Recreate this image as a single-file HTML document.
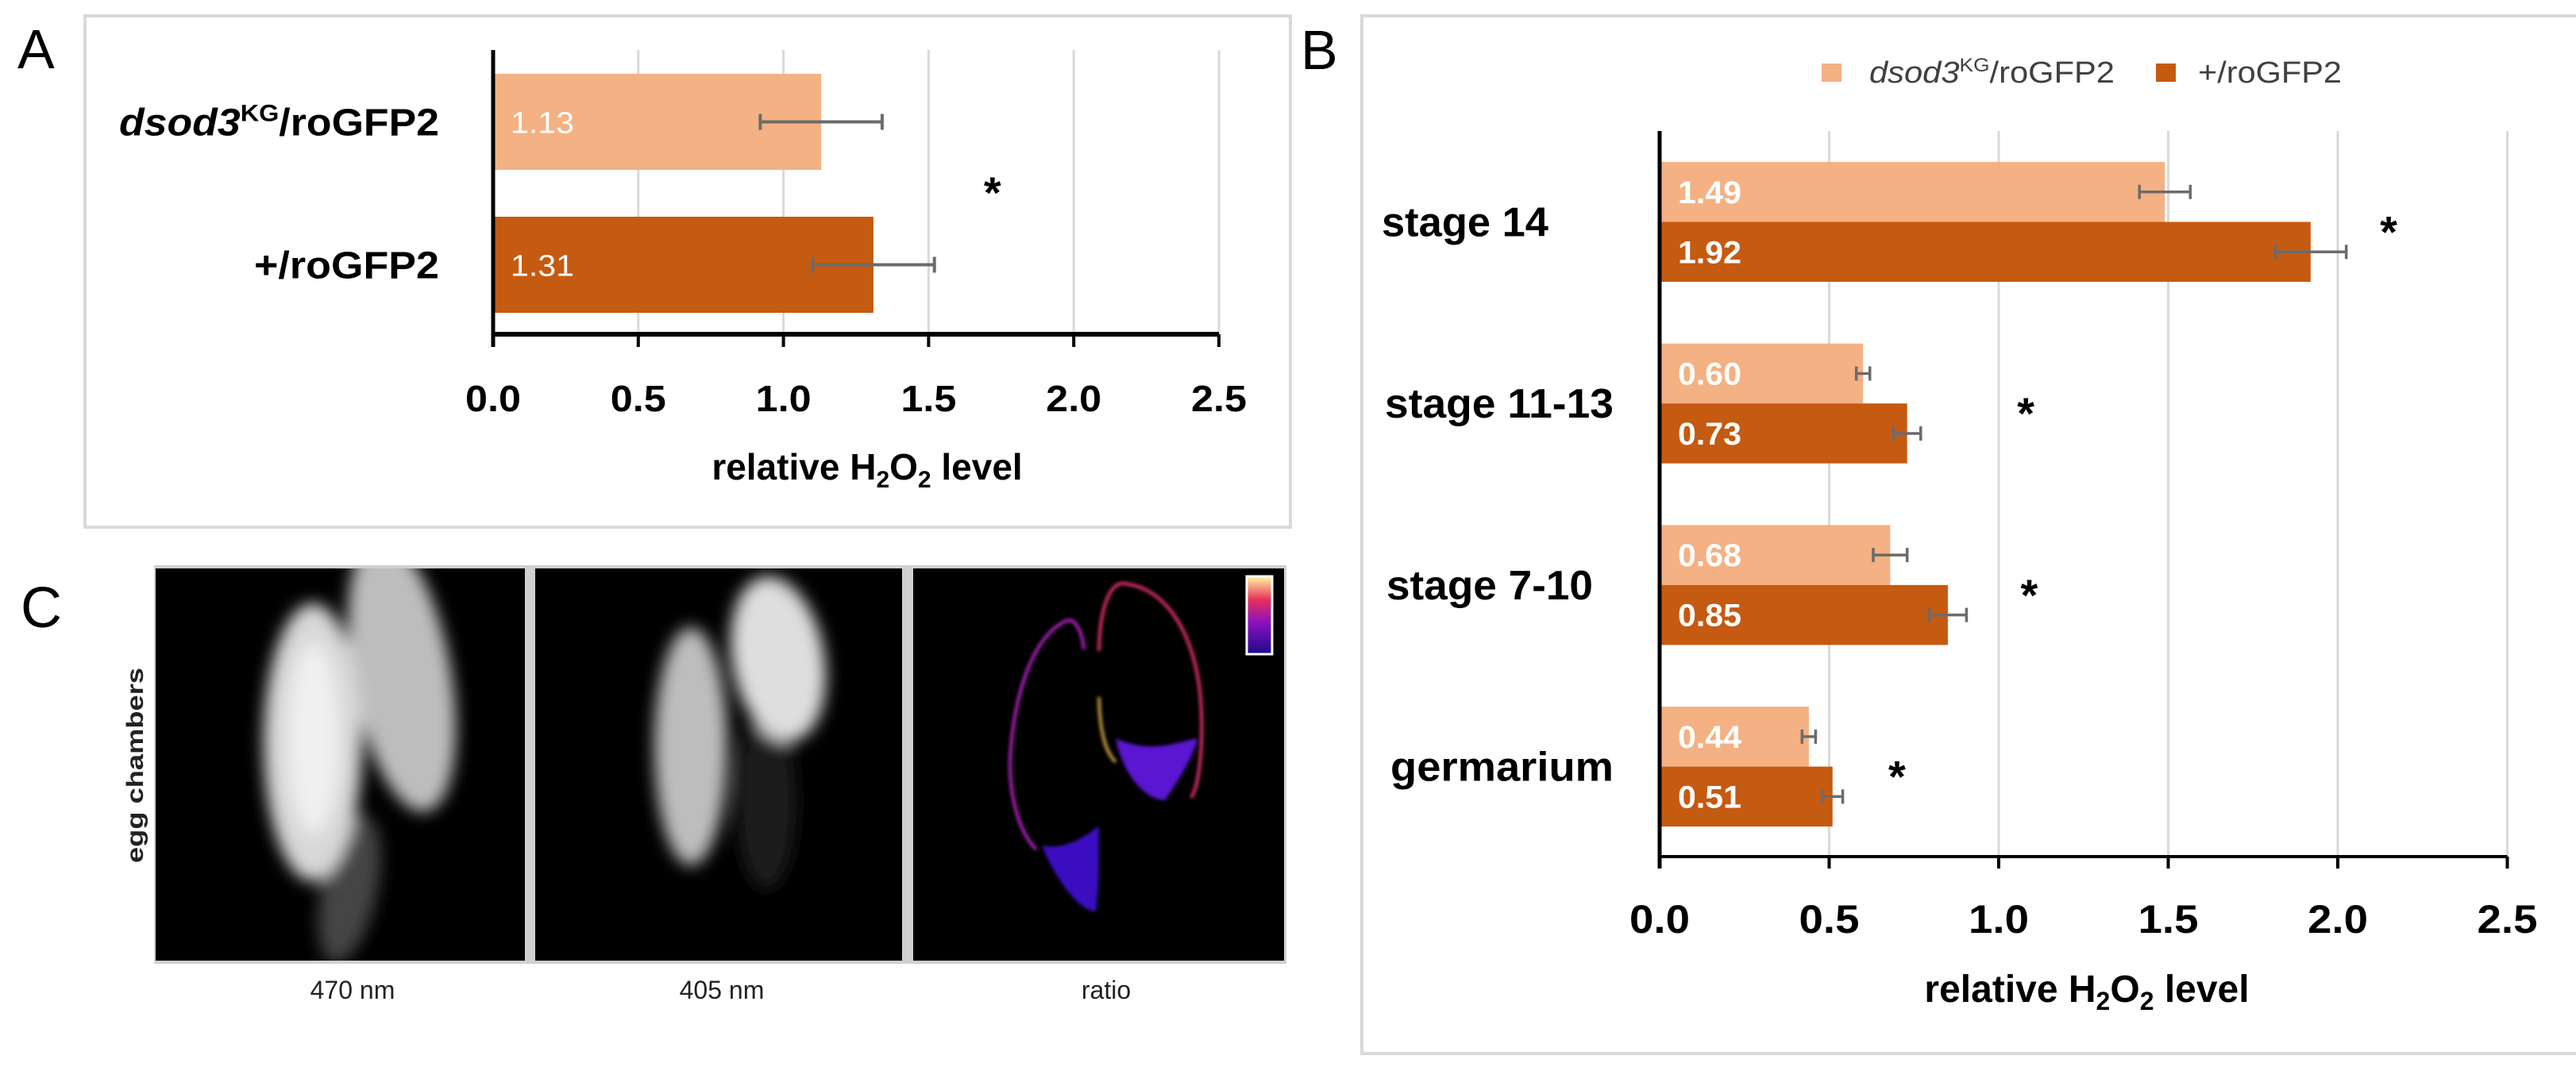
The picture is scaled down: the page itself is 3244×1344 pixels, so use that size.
<!DOCTYPE html>
<html><head><meta charset="utf-8"><style>
html,body{margin:0;padding:0;background:#fff;}
svg{display:block;}
text{font-family:"Liberation Sans",sans-serif;}
</style></head><body>
<svg id="fig" width="3244" height="1344" viewBox="0 0 3244 1344" xmlns="http://www.w3.org/2000/svg">
<defs>
<filter id="blur1" x="-50%" y="-50%" width="200%" height="200%"><feGaussianBlur stdDeviation="10"/></filter>
<filter id="blur2" x="-50%" y="-50%" width="200%" height="200%"><feGaussianBlur stdDeviation="2"/></filter>
<clipPath id="c1"><rect x="196" y="716" width="465" height="494"/></clipPath>
<clipPath id="c2"><rect x="674" y="716" width="462" height="494"/></clipPath>
<clipPath id="c3"><rect x="1150" y="716" width="467" height="494"/></clipPath>
<linearGradient id="cbar" x1="0" y1="1" x2="0" y2="0"><stop offset="0" stop-color="#1a0a8a"/><stop offset="0.4" stop-color="#8a10c0"/><stop offset="0.7" stop-color="#e8305a"/><stop offset="1" stop-color="#fff8a0"/></linearGradient>
</defs>
<rect x="107" y="20" width="1518" height="644" fill="#fff" stroke="#d9d9d9" stroke-width="4"/>
<text x="22" y="86" font-size="70" fill="#000">A</text>
<g id="chartA"></g>
<rect x="1715" y="20" width="1540" height="1307" fill="#fff" stroke="#d9d9d9" stroke-width="4"/>
<text x="1638" y="87" font-size="70" fill="#000">B</text>
<g id="legendB">
<rect x="2294" y="80" width="25" height="23" fill="#F4B183"/>
<text x="2354" y="104" font-size="38" fill="#404040" textLength="309" lengthAdjust="spacingAndGlyphs"><tspan font-style="italic">dsod3</tspan><tspan font-size="24" dy="-14">KG</tspan><tspan dy="14">/roGFP2</tspan></text>
<rect x="2715" y="80" width="25" height="23" fill="#C55A11"/>
<text x="2768" y="104" font-size="38" fill="#404040" textLength="181" lengthAdjust="spacingAndGlyphs">+/roGFP2</text>
</g>
<g id="chartB"></g>
<text x="26" y="790" font-size="72" fill="#000">C</text>
<text transform="translate(180,964) rotate(-90)" text-anchor="middle" font-size="30" font-weight="bold" fill="#222" textLength="246" lengthAdjust="spacingAndGlyphs">egg chambers</text>
<rect x="194" y="712" width="1426" height="502" fill="#d0d0d0"/>
<g clip-path="url(#c1)">
<rect x="196" y="716" width="465" height="494" fill="#000"/>
<g filter="url(#blur1)">
<ellipse cx="440" cy="1120" rx="35" ry="95" fill="#444" transform="rotate(12 440 1120)"/>
<ellipse cx="506" cy="850" rx="62" ry="175" fill="#bdbdbd" transform="rotate(-10 506 850)"/>
<ellipse cx="394" cy="935" rx="62" ry="175" fill="#d8d8d8"/>
<ellipse cx="395" cy="930" rx="32" ry="120" fill="#f0f0f0"/>
</g>
</g>
<g clip-path="url(#c2)">
<rect x="674" y="716" width="462" height="494" fill="#000"/>
<g filter="url(#blur1)">
<ellipse cx="965" cy="1010" rx="38" ry="110" fill="#1c1c1c"/>
<ellipse cx="870" cy="940" rx="46" ry="150" fill="#bdbdbd"/>
<ellipse cx="980" cy="830" rx="58" ry="105" fill="#dedede" transform="rotate(-10 980 830)"/>
</g>
</g>
<g clip-path="url(#c3)">
<rect x="1150" y="716" width="467" height="494" fill="#000"/>
<g fill="none" stroke-width="4" filter="url(#blur2)">
<path d="M1365,818 C1362,790 1352,778 1343,782 C1300,800 1275,880 1272,960 C1272,1010 1285,1050 1305,1070" stroke="#b020c0"/>
<path d="M1384,820 C1385,760 1400,733 1415,735 C1470,740 1505,800 1512,880 C1516,940 1510,990 1500,1005" stroke="#e0306a"/>
<path d="M1384,878 C1385,930 1395,950 1405,960" stroke="#c8a040"/>
</g>
<path d="M1405,930 C1415,980 1445,1008 1467,1008 C1480,990 1505,950 1508,930 C1480,935 1450,950 1405,930 Z" fill="#5a18d0" filter="url(#blur2)"/>
<path d="M1312,1065 C1330,1110 1360,1148 1380,1148 C1385,1110 1383,1080 1384,1040 C1360,1060 1335,1070 1312,1065 Z" fill="#3a10c0" filter="url(#blur2)"/>
<rect x="1570" y="726" width="32" height="98" fill="url(#cbar)" stroke="#fff" stroke-width="3"/>
</g>
<text x="444" y="1258" text-anchor="middle" font-size="32" fill="#222">470 nm</text>
<text x="909" y="1258" text-anchor="middle" font-size="32" fill="#222">405 nm</text>
<text x="1393" y="1258" text-anchor="middle" font-size="32" fill="#222">ratio</text>
</svg>
<script>
var catsA = ["dsod3KG/roGFP2", "+/roGFP2"];
var valsA = [1.13, 1.31];
var errA = [0.21, 0.21];
var ticksA = ["0.0","0.5","1.0","1.5","2.0","2.5"];
var tickValsA = [0, 0.5, 1.0, 1.5, 2.0, 2.5];
var catsB = ["stage 14", "stage 11-13", "stage 7-10", "germarium"];
var valsB_mut = [1.49, 0.60, 0.68, 0.44];
var valsB_wt = [1.92, 0.73, 0.85, 0.51];
var errB_mut = [0.075, 0.02, 0.05, 0.02];
var errB_wt = [0.105, 0.04, 0.055, 0.03];
var starsB = [2.15, 1.08, 1.09, 0.70];
var starA = 1.72;
var ticksB = ["0.0","0.5","1.0","1.5","2.0","2.5"];
var tickValsB = [0, 0.5, 1.0, 1.5, 2.0, 2.5];

var NS = "http://www.w3.org/2000/svg";
function mk(tag, attrs, parent) {
  var e = document.createElementNS(NS, tag);
  for (var k in attrs) e.setAttribute(k, attrs[k]);
  parent.appendChild(e);
  return e;
}
var LIGHT = "#F4B183", DARK = "#C55A11";

(function(){
  var g = document.getElementById("chartA");
  var x0 = 621, unit = 365.6, top = 63, axisY = 421;
  function xA(v){ return x0 + v*unit; }
  tickValsA.forEach(function(v,i){
    if (i>0) {
      var gl = mk("line",{x1:xA(v),x2:xA(v),y1:top,y2:axisY,stroke:"#d9d9d9","stroke-width":3},g);
      
      
    }
    var tk = mk("line",{x1:xA(v),x2:xA(v),y1:axisY,y2:axisY+16,stroke:"#000","stroke-width":4},g);
    
    
    var t = mk("text",{x:xA(v),y:518,"text-anchor":"middle","font-size":"46","font-weight":"bold",fill:"#000",textLength:"70",lengthAdjust:"spacingAndGlyphs"},g);
    t.textContent = ticksA[i];
    
    
  });
  var bandTop = [93, 273], bandH = 121;
  var labelW = [403, 233];
  valsA.forEach(function(v,i){
    var y = bandTop[i];
    var b = mk("rect",{x:x0,y:y,width:xA(v)-x0,height:bandH,fill:i===0?LIGHT:DARK},g);
    
    
    var cy = y + bandH/2;
    var e1 = xA(v-errA[i]), e2 = xA(v+errA[i]);
    var el = mk("path",{d:"M"+e1+","+cy+"H"+e2+"M"+e1+","+(cy-10)+"V"+(cy+10)+"M"+e2+","+(cy-10)+"V"+(cy+10),stroke:"#6b6b6b","stroke-width":4,fill:"none"},g);
    
    
    var vl = mk("text",{x:x0+22,y:cy+14,"font-size":"38",fill:"#fff",textLength:"80",lengthAdjust:"spacingAndGlyphs"},g);
    vl.textContent = v.toFixed(2);
    
    
    var cl = mk("text",{x:553,y:cy+17,"text-anchor":"end","font-size":"48","font-weight":"bold",fill:"#000",textLength:labelW[i],lengthAdjust:"spacingAndGlyphs"},g);
    if (i===0) {
      cl.innerHTML = '<tspan font-style="italic">dsod3</tspan><tspan font-size="30" dy="-18">KG</tspan><tspan dy="18">/roGFP2</tspan>';
    } else { cl.textContent = catsA[i]; }
    
    
  });
  var ax = mk("line",{x1:x0,x2:x0,y1:top,y2:axisY+16,stroke:"#000","stroke-width":5},g);
  
  
  var xa = mk("line",{x1:x0,x2:xA(2.5),y1:axisY,y2:axisY,stroke:"#000","stroke-width":6},g);
  
  
  var st = mk("text",{x:xA(starA),y:262,"text-anchor":"middle","font-size":"56","font-weight":"bold",fill:"#000"},g);
  st.textContent = "*";
  
  
  var ti = mk("text",{x:1092,y:604,"text-anchor":"middle","font-size":"46","font-weight":"bold",fill:"#000"},g);
  ti.innerHTML = 'relative H<tspan font-size="30" dy="10">2</tspan><tspan dy="-10">O</tspan><tspan font-size="30" dy="10">2</tspan><tspan dy="-10"> level</tspan>';
  
  
})();

(function(){
  var g = document.getElementById("chartB");
  var x0 = 2090, unit = 427, top = 165, axisY = 1079;
  function xB(v){ return x0 + v*unit; }
  tickValsB.forEach(function(v,i){
    if (i>0) {
      var gl = mk("line",{x1:xB(v),x2:xB(v),y1:top,y2:axisY,stroke:"#d9d9d9","stroke-width":3},g);
      
      
    }
    var tk = mk("line",{x1:xB(v),x2:xB(v),y1:axisY,y2:axisY+15,stroke:"#000","stroke-width":4},g);
    
    
    var t = mk("text",{x:xB(v),y:1175,"text-anchor":"middle","font-size":"50","font-weight":"bold",fill:"#000",textLength:"76",lengthAdjust:"spacingAndGlyphs"},g);
    t.textContent = ticksB[i];
    
    
  });
  var groupTop0 = 204, groupStep = 228.7, barH = 75.5;
  var catX = [1740, 1744, 1746, 1751], catW = [210, 288, 260, 281];
  catsB.forEach(function(c,i){
    var y = groupTop0 + i*groupStep;
    [[valsB_mut[i], errB_mut[i], LIGHT, 'bar-dsod3-'], [valsB_wt[i], errB_wt[i], DARK, 'bar-wt-']].forEach(function(s,j){
      var by = y + j*barH;
      var b = mk("rect",{x:x0,y:by,width:xB(s[0])-x0,height:barH,fill:s[2]},g);
      
      
      var cy = by + barH/2;
      var e1 = xB(s[0]-s[1]), e2 = xB(s[0]+s[1]);
      var el = mk("path",{d:"M"+e1+","+cy+"H"+e2+"M"+e1+","+(cy-9)+"V"+(cy+9)+"M"+e2+","+(cy-9)+"V"+(cy+9),stroke:"#6b6b6b","stroke-width":3.5,fill:"none"},g);
      
      
      var vl = mk("text",{x:x0+23,y:cy+14,"font-size":"40","font-weight":"bold",fill:"#fff",textLength:"80",lengthAdjust:"spacingAndGlyphs"},g);
      vl.textContent = s[0].toFixed(2);
      
      
    });
    var cl = mk("text",{x:catX[i],y:y+barH+18,"font-size":"52","font-weight":"bold",fill:"#000",textLength:catW[i],lengthAdjust:"spacingAndGlyphs"},g);
    cl.textContent = c;
    
    
    var st = mk("text",{x:xB(starsB[i]),y:y+barH+32,"text-anchor":"middle","font-size":"56","font-weight":"bold",fill:"#000"},g);
    st.textContent = "*";
    
    
  });
  var ax = mk("line",{x1:x0,x2:x0,y1:top,y2:axisY+15,stroke:"#000","stroke-width":5},g);
  
  
  var xa = mk("line",{x1:x0,x2:xB(2.5),y1:axisY,y2:axisY,stroke:"#000","stroke-width":4},g);
  
  
  var ti = mk("text",{x:2628,y:1262,"text-anchor":"middle","font-size":"48","font-weight":"bold",fill:"#000"},g);
  ti.innerHTML = 'relative H<tspan font-size="32" dy="10">2</tspan><tspan dy="-10">O</tspan><tspan font-size="32" dy="10">2</tspan><tspan dy="-10"> level</tspan>';
  
  
})();
</script>
</body></html>
